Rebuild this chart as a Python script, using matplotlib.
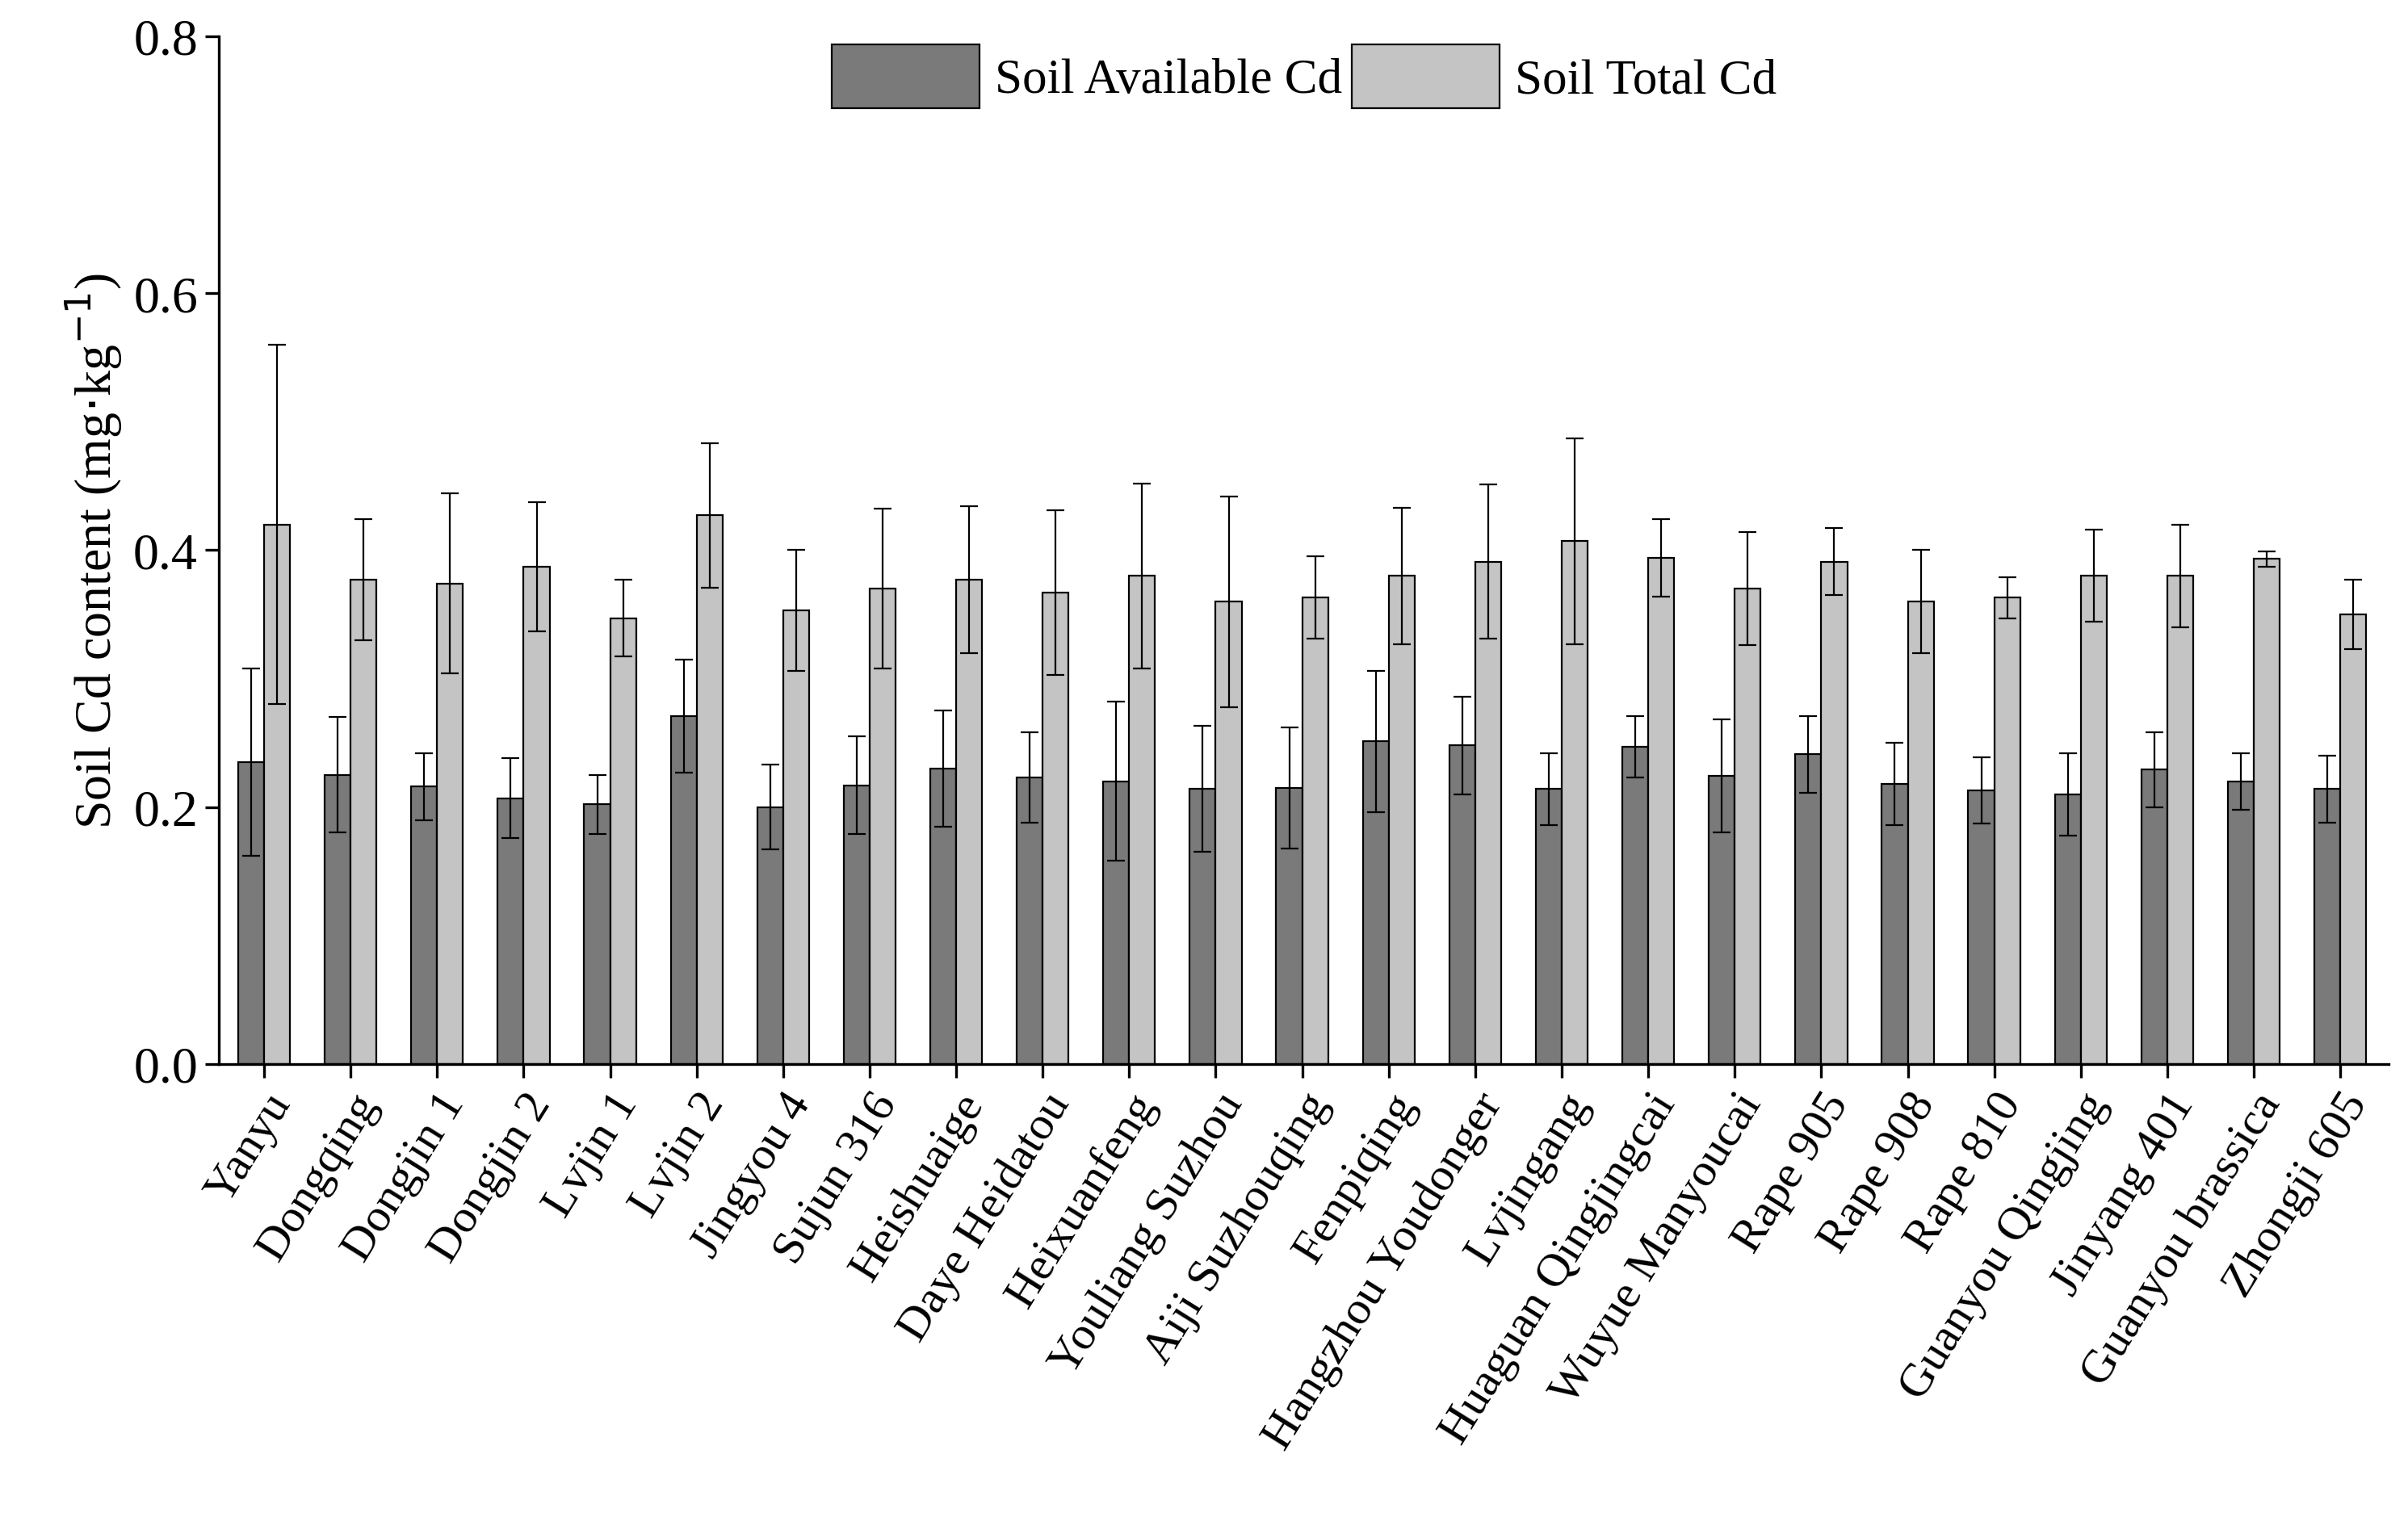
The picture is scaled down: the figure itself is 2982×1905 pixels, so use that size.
import numpy as np
import matplotlib.pyplot as plt

plt.rcParams['font.family'] = 'Liberation Serif'

cultivars = ['Yanyu', 'Dongqing', 'Dongjin 1', 'Dongjin 2', 'Lvjin 1', 'Lvjin 2',
             'Jingyou 4', 'Sujun 316', 'Heishuaige', 'Daye Heidatou', 'Heixuanfeng',
             'Youliang Suzhou', 'Aiji Suzhouqing', 'Fenpiqing', 'Hangzhou Youdonger',
             'Lvjingang', 'Huaguan Qingjingcai', 'Wuyue Manyoucai', 'Rape 905',
             'Rape 908', 'Rape 810', 'Guanyou Qingjing', 'Jinyang 401',
             'Guanyou brassica', 'Zhongji 605']
available = [0.235, 0.225, 0.216, 0.207, 0.202, 0.271, 0.200, 0.217, 0.230, 0.223,
             0.220, 0.214, 0.215, 0.251, 0.248, 0.214, 0.247, 0.224, 0.241, 0.218,
             0.213, 0.210, 0.229, 0.220, 0.214]
available_err = [0.073, 0.045, 0.026, 0.031, 0.023, 0.044, 0.033, 0.038, 0.045, 0.035,
                 0.062, 0.049, 0.047, 0.055, 0.038, 0.028, 0.024, 0.044, 0.030, 0.032,
                 0.026, 0.032, 0.029, 0.022, 0.026]
total = [0.420, 0.377, 0.374, 0.387, 0.347, 0.427, 0.353, 0.370, 0.377, 0.367,
         0.380, 0.360, 0.363, 0.380, 0.391, 0.407, 0.394, 0.370, 0.391, 0.360,
         0.363, 0.380, 0.380, 0.393, 0.350]
total_err = [0.140, 0.047, 0.070, 0.050, 0.030, 0.056, 0.047, 0.062, 0.057, 0.064,
             0.072, 0.082, 0.032, 0.053, 0.060, 0.080, 0.030, 0.044, 0.026, 0.040,
             0.016, 0.036, 0.040, 0.006, 0.027]

x = np.arange(len(cultivars))
w = 0.3

fig = plt.figure(figsize=(14.91, 9.53), dpi=200)
ax = fig.add_axes([0.091, 0.308, 0.901, 0.668])
ek = dict(elinewidth=0.8, capsize=4, capthick=0.8, ecolor='black')
ax.bar(x - w/2, available, w, yerr=available_err, color='#7a7a7a', edgecolor='black',
       linewidth=0.8, error_kw=ek, label='Soil Available Cd')
ax.bar(x + w/2, total, w, yerr=total_err, color='#c4c4c4', edgecolor='black',
       linewidth=0.8, error_kw=ek, label='Soil Total Cd')

ax.set_xlim(-0.52, 24.56)
ax.set_ylim(0, 0.8)
ax.set_yticks([0.0, 0.2, 0.4, 0.6, 0.8])
ax.set_yticklabels(['0.0', '0.2', '0.4', '0.6', '0.8'], fontsize=23)
ax.set_xticks(x)
ax.set_xticklabels(cultivars, rotation=58, ha='right', rotation_mode='anchor', fontsize=21)
ax.tick_params(axis='both', width=1.2, length=6)
ax.spines['top'].set_visible(False)
ax.spines['right'].set_visible(False)
ax.spines['left'].set_linewidth(1.2)
ax.spines['bottom'].set_linewidth(1.2)
ax.set_ylabel('Soil Cd content (mg$\\cdot$kg$^{-1}$)', fontsize=23)
ax.legend(loc='upper center', bbox_to_anchor=(0.5, 1.035), ncol=2, frameon=False,
          fontsize=22, handlelength=3.0, handleheight=1.6, columnspacing=0.2,
          handletextpad=0.3)
fig.savefig('out.png', dpi=200)
